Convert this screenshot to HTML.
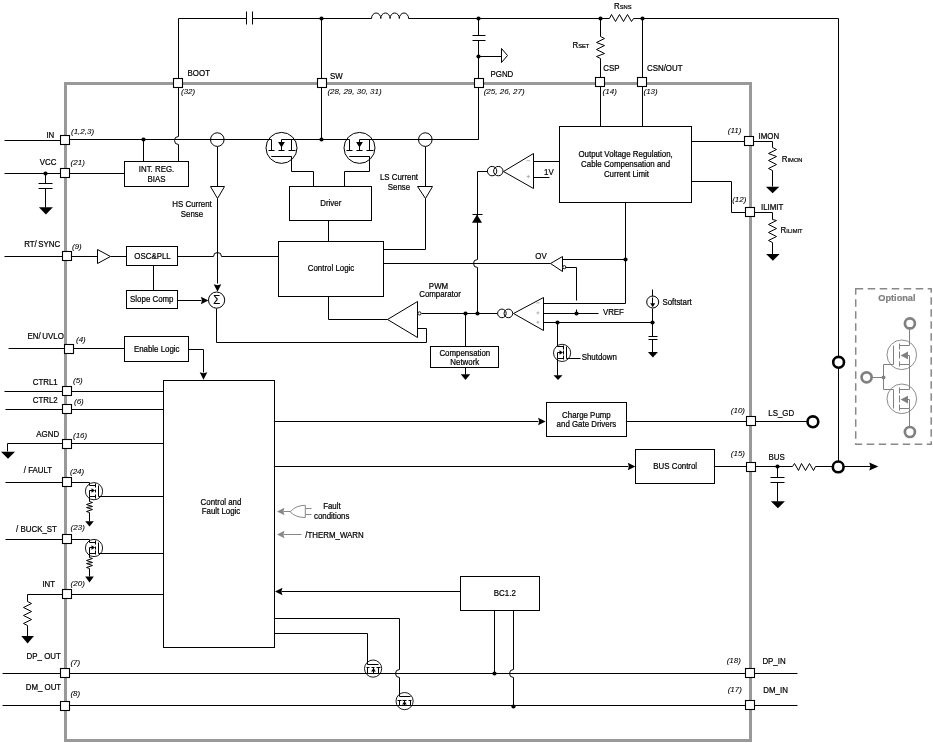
<!DOCTYPE html>
<html><head><meta charset="utf-8"><style>
html,body{margin:0;padding:0;background:#fff;}
svg{display:block;}
text{font-family:"Liberation Sans",sans-serif;}
svg{will-change:transform;}
</style></head><body>
<svg width="933" height="743" viewBox="0 0 933 743">
<rect x="65.5" y="83.5" width="685" height="657" fill="none" stroke="#999" stroke-width="3"/>
<path d="M178.5 83.5 V18.5 H246.5 M252.5 18.5 H371.5 M408.5 18.5 H609.5 M633.5 18.5 H838.5 V462.5" fill="none" stroke="#000" stroke-width="1.0" />
<path d="M246.5 11.5 V24.5 M252.5 11.5 V24.5" fill="none" stroke="#000" stroke-width="1.0" />
<path d="M371.5 18.5 a4.64 5.5 0 0 1 9.28 0 a4.64 5.5 0 0 1 9.28 0 a4.64 5.5 0 0 1 9.28 0 a4.64 5.5 0 0 1 9.28 0" fill="none" stroke="#000" stroke-width="1.0" />
<path d="M609.5 18.5 L611.5 14.5 L615.5 21.5 L619.5 14.5 L623.5 21.5 L627.5 14.5 L631.5 21.5 L633.5 18.5" fill="none" stroke="#000" stroke-width="1.0" />
<circle cx="321.5" cy="18.5" r="2.1" fill="#000"/>
<circle cx="478.5" cy="18.5" r="2.1" fill="#000"/>
<circle cx="600.5" cy="18.5" r="2.1" fill="#000"/>
<circle cx="642.5" cy="18.5" r="2.1" fill="#000"/>
<path d="M321.5 18.5 V140.5" fill="none" stroke="#000" stroke-width="1.0" />
<circle cx="321.5" cy="139.5" r="2.1" fill="#000"/>
<path d="M478.5 18.5 V35.5 M478.5 40.5 V139.5 H369.5" fill="none" stroke="#000" stroke-width="1.0" />
<path d="M472.5 35.5 H485.5 M472.5 40.5 H485.5" fill="none" stroke="#000" stroke-width="1.0" />
<circle cx="478.5" cy="56.5" r="2.1" fill="#000"/>
<path d="M478.5 56.5 H501.5" fill="none" stroke="#000" stroke-width="1.0" />
<path d="M501.5 48.5 L507.5 55.5 L501.5 62.5 Z" fill="none" stroke="#000" stroke-width="1.0" />
<path d="M600.5 18.5 V36.5" fill="none" stroke="#000" stroke-width="1.0" />
<path d="M600.5 36.5 L604.5 38.5 L596.5 42.5 L604.5 45.5 L596.5 49.5 L604.5 53.5 L596.5 56.5 L600.5 58.5" fill="none" stroke="#000" stroke-width="1.0" />
<path d="M600.5 58.5 V126.5" fill="none" stroke="#000" stroke-width="1.0" />
<path d="M642.5 18.5 V126.5" fill="none" stroke="#000" stroke-width="1.0" />
<path d="M178.5 83.5 V136.5 A4 4 0 0 0 178.5 144.5 V161.5" fill="none" stroke="#000" stroke-width="1.0" />
<path d="M4.5 140.5 H61.5 M69.5 139.5 H271.5 M281.5 139.5 H349.5 M359.5 139.5 H478.5" fill="none" stroke="#000" stroke-width="1.0" />
<circle cx="143.5" cy="139.5" r="2.1" fill="#000"/>
<path d="M143.5 139.5 V161.5" fill="none" stroke="#000" stroke-width="1.0" />
<rect x="124.5" y="161.5" width="64.00" height="25.00" fill="#fff" stroke="#000" stroke-width="1.0"/>
<text transform="translate(156.5,172.4) scale(0.93,1)" font-size="8.5" text-anchor="middle" fill="#000" stroke="#000" stroke-width="0.22" font-weight="normal" style="">INT. REG.</text>
<text transform="translate(156.5,181.8) scale(0.93,1)" font-size="8.5" text-anchor="middle" fill="#000" stroke="#000" stroke-width="0.22" font-weight="normal" style="">BIAS</text>
<path d="M4.5 173.5 H124.5" fill="none" stroke="#000" stroke-width="1.0" />
<circle cx="45.5" cy="173.5" r="2.1" fill="#000"/>
<path d="M45.5 173.5 V183.5 M45.5 188.5 V207.5" fill="none" stroke="#000" stroke-width="1.0" />
<path d="M38.5 183.5 H52.5 M38.5 188.5 H52.5" fill="none" stroke="#000" stroke-width="1.0" />
<path d="M38.9,207.3 H52.9 L45.9,214.5 Z" fill="#000" stroke="none"/>
<circle cx="217.3" cy="139.6" r="6.8" fill="none" stroke="#000" stroke-width="1.0"/>
<path d="M217.5 146.5 V186.5" fill="none" stroke="#000" stroke-width="1.0" />
<path d="M210.5 186.5 H224.5 L217.5 198.5 Z" fill="none" stroke="#000" stroke-width="1.0" />
<path d="M217.5 198.5 V283.5" fill="none" stroke="#000" stroke-width="1.0" />
<path d="M217.50,291.70 L213.70,284.20 L217.50,285.30 L221.30,284.20 Z" fill="#000" stroke="none"/>
<circle cx="216.6" cy="300.1" r="8.1" fill="none" stroke="#000" stroke-width="1.0"/>
<text transform="translate(216.8,304.2) scale(0.93,1)" font-size="12" text-anchor="middle" fill="#000" stroke="#000" stroke-width="0.22" font-weight="normal" style="">&#931;</text>
<text transform="translate(192,207.3) scale(0.93,1)" font-size="8.5" text-anchor="middle" fill="#000" stroke="#000" stroke-width="0.22" font-weight="normal" style="">HS Current</text>
<text transform="translate(192,217) scale(0.93,1)" font-size="8.5" text-anchor="middle" fill="#000" stroke="#000" stroke-width="0.22" font-weight="normal" style="">Sense</text>
<circle cx="281.5" cy="147.9" r="15.5" fill="none" stroke="#000" stroke-width="1.0"/>
<path d="M271.5 139.5 V150.5 M281.5 139.5 V150.5 M291.5 139.5 V150.5" fill="none" stroke="#000" stroke-width="1.0" />
<path d="M268.5 150.5 H274.5 M278.5 150.5 H284.5 M288.5 150.5 H295.5" fill="none" stroke="#000" stroke-width="1.0" />
<path d="M278.1,142.1 H284.9 L281.5,147.4 Z" fill="#000" stroke="none"/>
<path d="M271.5 156.5 H291.5" fill="none" stroke="#000" stroke-width="1.0" />
<circle cx="359.5" cy="147.9" r="15.5" fill="none" stroke="#000" stroke-width="1.0"/>
<path d="M349.5 139.5 V150.5 M359.5 139.5 V150.5 M369.5 139.5 V150.5" fill="none" stroke="#000" stroke-width="1.0" />
<path d="M346.5 150.5 H352.5 M356.5 150.5 H362.5 M366.5 150.5 H373.5" fill="none" stroke="#000" stroke-width="1.0" />
<path d="M356.1,142.1 H362.9 L359.5,147.4 Z" fill="#000" stroke="none"/>
<path d="M349.5 156.5 H369.5" fill="none" stroke="#000" stroke-width="1.0" />
<path d="M271.5 156.5 H291.5 V171.5 H313.5 V186.5" fill="none" stroke="#000" stroke-width="1.0" />
<path d="M349.5 156.5 H369.5 V171.5 H344.5 V186.5" fill="none" stroke="#000" stroke-width="1.0" />
<rect x="289.5" y="186.5" width="82.00" height="34.00" fill="#fff" stroke="#000" stroke-width="1.0"/>
<text transform="translate(330.8,206.2) scale(0.93,1)" font-size="8.5" text-anchor="middle" fill="#000" stroke="#000" stroke-width="0.22" font-weight="normal" style="">Driver</text>
<path d="M328.5 220.5 V241.5" fill="none" stroke="#000" stroke-width="1.0" />
<circle cx="425.3" cy="139.6" r="6.8" fill="none" stroke="#000" stroke-width="1.0"/>
<path d="M425.5 146.5 V186.5" fill="none" stroke="#000" stroke-width="1.0" />
<path d="M417.5 186.5 H432.5 L425.5 198.5 Z" fill="none" stroke="#000" stroke-width="1.0" />
<path d="M425.5 198.5 V249.5 H383.5" fill="none" stroke="#000" stroke-width="1.0" />
<text transform="translate(399,180.2) scale(0.93,1)" font-size="8.5" text-anchor="middle" fill="#000" stroke="#000" stroke-width="0.22" font-weight="normal" style="">LS Current</text>
<text transform="translate(399,189.7) scale(0.93,1)" font-size="8.5" text-anchor="middle" fill="#000" stroke="#000" stroke-width="0.22" font-weight="normal" style="">Sense</text>
<rect x="278.5" y="241.5" width="105.00" height="55.00" fill="#fff" stroke="#000" stroke-width="1.0"/>
<text transform="translate(331,270.6) scale(0.93,1)" font-size="8.5" text-anchor="middle" fill="#000" stroke="#000" stroke-width="0.22" font-weight="normal" style="">Control Logic</text>
<path d="M4.5 256.5 H97.5 M110.5 256.5 H126.5" fill="none" stroke="#000" stroke-width="1.0" />
<path d="M97.5 249.5 L110.5 256.5 L97.5 263.5 Z" fill="none" stroke="#000" stroke-width="1.0" />
<rect x="126.5" y="246.5" width="51.00" height="19.00" fill="#fff" stroke="#000" stroke-width="1.0"/>
<text transform="translate(152.5,258.6) scale(0.93,1)" font-size="8.5" text-anchor="middle" fill="#000" stroke="#000" stroke-width="0.22" font-weight="normal" style="">OSC&amp;PLL</text>
<path d="M153.5 265.5 V290.5" fill="none" stroke="#000" stroke-width="1.0" />
<rect x="126.5" y="290.5" width="51.00" height="18.00" fill="#fff" stroke="#000" stroke-width="1.0"/>
<text transform="translate(151.8,301.8) scale(0.93,1)" font-size="8.5" text-anchor="middle" fill="#000" stroke="#000" stroke-width="0.22" font-weight="normal" style="">Slope Comp</text>
<path d="M177.5 256.5 H213.5 A4 4 0 0 1 221.5 256.5 H278.5" fill="none" stroke="#000" stroke-width="1.0" />
<path d="M177.5 300.5 H201.5" fill="none" stroke="#000" stroke-width="1.0" />
<path d="M208.40,300.50 L200.90,296.70 L202.00,300.50 L200.90,304.30 Z" fill="#000" stroke="none"/>
<path d="M216.5 308.5 V342.5 H426.5 V328.5 H417.5" fill="none" stroke="#000" stroke-width="1.0" />
<path d="M387.5 319.5 L417.5 301.5 V337.5 Z" fill="none" stroke="#000" stroke-width="1.0" />
<circle cx="419.5" cy="313.4" r="1.6" fill="#fff" stroke="#000" stroke-width="0.9"/>
<path d="M328.5 296.5 V319.5 H387.5" fill="none" stroke="#000" stroke-width="1.0" />
<path d="M421.5 313.5 H497.5" fill="none" stroke="#000" stroke-width="1.0" />
<circle cx="465.5" cy="313.5" r="2.1" fill="#000"/>
<circle cx="477.5" cy="313.5" r="2.1" fill="#000"/>
<text transform="translate(438.5,289.4) scale(0.93,1)" font-size="8.5" text-anchor="middle" fill="#000" stroke="#000" stroke-width="0.22" font-weight="normal" style="">PWM</text>
<text transform="translate(440,296.9) scale(0.93,1)" font-size="8.5" text-anchor="middle" fill="#000" stroke="#000" stroke-width="0.22" font-weight="normal" style="">Comparator</text>
<path d="M465.5 313.5 V346.5" fill="none" stroke="#000" stroke-width="1.0" />
<rect x="430.5" y="346.5" width="68.00" height="21.00" fill="#fff" stroke="#000" stroke-width="1.0"/>
<text transform="translate(464.8,355.6) scale(0.93,1)" font-size="8.5" text-anchor="middle" fill="#000" stroke="#000" stroke-width="0.22" font-weight="normal" style="">Compensation</text>
<text transform="translate(464.8,365.0) scale(0.93,1)" font-size="8.5" text-anchor="middle" fill="#000" stroke="#000" stroke-width="0.22" font-weight="normal" style="">Network</text>
<path d="M465.5 367.5 V374.5" fill="none" stroke="#000" stroke-width="1.0" />
<path d="M460.75,374.2 H470.25 L465.5,380.0 Z" fill="#000" stroke="none"/>
<path d="M383.5 263.5 H550.5" fill="none" stroke="#000" stroke-width="1.0" />
<path d="M477.5 171.5 V259.5 A4 4 0 0 0 477.5 267.5 V313.5" fill="none" stroke="#000" stroke-width="1.0" />
<path d="M472,222.7 H482 L477,214.5 Z" fill="#000" stroke="none"/>
<path d="M472.5 214.5 H482.5" fill="none" stroke="#000" stroke-width="1.0" />
<path d="M477.5 171.5 H487.5" fill="none" stroke="#000" stroke-width="1.0" />
<circle cx="492.1" cy="171.1" r="4.7" fill="none" stroke="#000" stroke-width="1.0"/>
<circle cx="498.3" cy="171.1" r="4.7" fill="none" stroke="#000" stroke-width="1.0"/>
<path d="M503.5 171.5 L533.5 153.5 V188.5 Z" fill="none" stroke="#000" stroke-width="1.0" />
<path d="M526.6,160.8 H530.2 M526.7,176.6 H529.9 M528.3,175 V178.2" stroke="#aaa" stroke-width="0.9" fill="none"/>
<path d="M533.5 161.5 H559.5 M533.5 177.5 H549.5" fill="none" stroke="#000" stroke-width="1.0" />
<text transform="translate(544,175.2) scale(0.93,1)" font-size="8.5" text-anchor="start" fill="#000" stroke="#000" stroke-width="0.22" font-weight="normal" style="">1V</text>
<rect x="559.5" y="126.5" width="132.00" height="76.00" fill="#fff" stroke="#000" stroke-width="1.0"/>
<text transform="translate(625.6,157.4) scale(0.93,1)" font-size="8.5" text-anchor="middle" fill="#000" stroke="#000" stroke-width="0.22" font-weight="normal" style="">Output Voltage Regulation,</text>
<text transform="translate(625.6,166.9) scale(0.93,1)" font-size="8.5" text-anchor="middle" fill="#000" stroke="#000" stroke-width="0.22" font-weight="normal" style="">Cable Compensation and</text>
<text transform="translate(626.5,176.6) scale(0.93,1)" font-size="8.5" text-anchor="middle" fill="#000" stroke="#000" stroke-width="0.22" font-weight="normal" style="">Current Limit</text>
<path d="M625.5 202.5 V303.5 H543.5" fill="none" stroke="#000" stroke-width="1.0" />
<circle cx="625.5" cy="259.5" r="2.1" fill="#000"/>
<path d="M625.5 259.5 H562.5" fill="none" stroke="#000" stroke-width="1.0" />
<path d="M691.5 141.5 H772.5 V147.5" fill="none" stroke="#000" stroke-width="1.0" />
<path d="M772.5 147.5 L776.5 149.5 L768.5 153.5 L776.5 156.5 L768.5 160.5 L776.5 164.5 L768.5 168.5 L772.5 170.5" fill="none" stroke="#000" stroke-width="1.0" />
<path d="M772.5 170.5 V186.5" fill="none" stroke="#000" stroke-width="1.0" />
<path d="M765.85,186.7 H779.35 L772.6,193.29999999999998 Z" fill="#000" stroke="none"/>
<path d="M691.5 181.5 H731.5 V212.5 H772.5 V219.5" fill="none" stroke="#000" stroke-width="1.0" />
<path d="M772.5 219.5 L776.5 220.5 L768.5 224.5 L776.5 228.5 L768.5 232.5 L776.5 236.5 L768.5 240.5 L772.5 242.5" fill="none" stroke="#000" stroke-width="1.0" />
<path d="M772.5 242.5 V254.5" fill="none" stroke="#000" stroke-width="1.0" />
<path d="M766.15,254.1 H779.65 L772.9,260.8 Z" fill="#000" stroke="none"/>
<path d="M550.5 263.5 L562.5 256.5 V271.5 Z" fill="none" stroke="#000" stroke-width="1.0" />
<circle cx="564.3" cy="267.2" r="1.6" fill="#fff" stroke="#000" stroke-width="0.9"/>
<path d="M565.5 267.5 H576.5 V300.5 M576.5 309.5 V313.5" fill="none" stroke="#000" stroke-width="1.0" />
<circle cx="576.5" cy="313.5" r="2.1" fill="#000"/>
<text transform="translate(541,259.2) scale(0.93,1)" font-size="8.5" text-anchor="middle" fill="#000" stroke="#000" stroke-width="0.22" font-weight="normal" style="">OV</text>
<path d="M513.5 313.5 L543.5 297.5 V330.5 Z" fill="none" stroke="#000" stroke-width="1.0" />
<circle cx="501.9" cy="313.4" r="4.3" fill="none" stroke="#000" stroke-width="1.0"/>
<circle cx="508.4" cy="313.4" r="4.3" fill="none" stroke="#000" stroke-width="1.0"/>
<path d="M536.2,302.9 H539.6 M536.4,312.9 H539.4 M537.9,311.4 V314.4 M536.4,322.2 H539.4 M537.9,320.7 V323.7" stroke="#aaa" stroke-width="0.9" fill="none"/>
<path d="M543.5 313.5 H598.5 M543.5 322.5 H652.5" fill="none" stroke="#000" stroke-width="1.0" />
<circle cx="557.5" cy="322.5" r="2.1" fill="#000"/>
<circle cx="652.5" cy="322.5" r="2.1" fill="#000"/>
<text transform="translate(602.9,315.3) scale(0.93,1)" font-size="8.5" text-anchor="start" fill="#000" stroke="#000" stroke-width="0.22" font-weight="normal" style="">VREF</text>
<path d="M652.5 289.5 V296.5 M652.5 308.5 V336.5 M652.5 339.5 V352.5" fill="none" stroke="#000" stroke-width="1.0" />
<circle cx="652.7" cy="302" r="6" fill="none" stroke="#000" stroke-width="1.0"/>
<path d="M652.5 297.5 V305.5" fill="none" stroke="#000" stroke-width="1.0" />
<path d="M650.2,303.2 H655.2 L652.7,307.2 Z" fill="#000" stroke="none"/>
<path d="M648.5 336.5 H657.5 M648.5 339.5 H657.5" fill="none" stroke="#000" stroke-width="1.0" />
<path d="M647.9,352 H657.9 L652.9,357.6 Z" fill="#000" stroke="none"/>
<text transform="translate(662.4,305.2) scale(0.93,1)" font-size="8.5" text-anchor="start" fill="#000" stroke="#000" stroke-width="0.22" font-weight="normal" style="">Softstart</text>
<path d="M557.5 322.5 V346.5 M557.5 358.5 V375.5" fill="none" stroke="#000" stroke-width="1.0" />
<circle cx="562.1" cy="352.9" r="8.6" fill="none" stroke="#000" stroke-width="0.9"/>
<path d="M557.5 346.5 H563.5 M557.5 352.5 H561.5 M557.5 352.5 V358.5 H563.5" fill="none" stroke="#000" stroke-width="1.0" />
<path d="M563.5 345.5 V349.5 M563.5 350.5 V354.5 M563.5 355.5 V359.5" fill="none" stroke="#000" stroke-width="1.0" />
<path d="M563.0,352.5 L559.5,350.2 V354.8 Z" fill="#000" stroke="none"/>
<path d="M566.5 346.5 V358.5" fill="none" stroke="#000" stroke-width="1.0" />
<path d="M566.5 358.5 H580.5" fill="none" stroke="#000" stroke-width="1.0" />
<path d="M553.5,375.2 H562.5 L558,380.0 Z" fill="#000" stroke="none"/>
<text transform="translate(581.7,360) scale(0.93,1)" font-size="8.5" text-anchor="start" fill="#000" stroke="#000" stroke-width="0.22" font-weight="normal" style="">Shutdown</text>
<path d="M8.5 348.5 H124.5" fill="none" stroke="#000" stroke-width="1.0" />
<rect x="124.5" y="336.5" width="64.00" height="25.00" fill="#fff" stroke="#000" stroke-width="1.0"/>
<text transform="translate(156.7,351.6) scale(0.93,1)" font-size="8.5" text-anchor="middle" fill="#000" stroke="#000" stroke-width="0.22" font-weight="normal" style="">Enable Logic</text>
<path d="M188.5 349.5 H203.5 V372.5" fill="none" stroke="#000" stroke-width="1.0" />
<path d="M203.50,379.70 L199.70,372.20 L203.50,373.30 L207.30,372.20 Z" fill="#000" stroke="none"/>
<rect x="163.5" y="380.5" width="111.00" height="267.00" fill="#fff" stroke="#000" stroke-width="1.0"/>
<text transform="translate(221,504.8) scale(0.93,1)" font-size="8.5" text-anchor="middle" fill="#000" stroke="#000" stroke-width="0.22" font-weight="normal" style="">Control and</text>
<text transform="translate(221,513.6) scale(0.93,1)" font-size="8.5" text-anchor="middle" fill="#000" stroke="#000" stroke-width="0.22" font-weight="normal" style="">Fault Logic</text>
<path d="M4.5 391.5 H163.5" fill="none" stroke="#000" stroke-width="1.0" />
<path d="M5.5 409.5 H163.5" fill="none" stroke="#000" stroke-width="1.0" />
<path d="M7.5 451.5 V443.5 H163.5" fill="none" stroke="#000" stroke-width="1.0" />
<path d="M1.0,451.7 H15.0 L8,458.8 Z" fill="#000" stroke="none"/>
<path d="M5.5 482.5 H89.5 V485.5" fill="none" stroke="#000" stroke-width="1.0" />
<circle cx="94.0" cy="491.2" r="8.6" fill="none" stroke="#000" stroke-width="0.9"/>
<path d="M89.5 485.5 H95.5 M89.5 490.5 H93.5 M89.5 490.5 V496.5 H95.5" fill="none" stroke="#000" stroke-width="1.0" />
<path d="M95.5 483.5 V487.5 M95.5 489.5 V492.5 M95.5 494.5 V498.5" fill="none" stroke="#000" stroke-width="1.0" />
<path d="M95.0,490.5 L91.5,488.2 V492.8 Z" fill="#000" stroke="none"/>
<path d="M98.5 485.5 V496.5" fill="none" stroke="#000" stroke-width="1.0" />
<path d="M98.5 496.5 H163.5" fill="none" stroke="#000" stroke-width="1.0" />
<path d="M89.5 496.5 V501.5" fill="none" stroke="#000" stroke-width="1.0" />
<path d="M89.5 501.5 L92.5 502.5 L86.5 504.5 L92.5 506.5 L86.5 507.5 L92.5 509.5 L86.5 511.5 L89.5 512.5" fill="none" stroke="#000" stroke-width="1.0" />
<path d="M89.5 512.5 V521.5" fill="none" stroke="#000" stroke-width="1.0" />
<path d="M85.2,521.3 H93.8 L89.5,526.5 Z" fill="#000" stroke="none"/>
<path d="M5.5 539.5 H89.5 V542.5" fill="none" stroke="#000" stroke-width="1.0" />
<circle cx="94.0" cy="548" r="8.6" fill="none" stroke="#000" stroke-width="0.9"/>
<path d="M89.5 542.5 H95.5 M89.5 547.5 H93.5 M89.5 547.5 V553.5 H95.5" fill="none" stroke="#000" stroke-width="1.0" />
<path d="M95.5 540.5 V544.5 M95.5 546.5 V549.5 M95.5 550.5 V554.5" fill="none" stroke="#000" stroke-width="1.0" />
<path d="M95.0,547.5 L91.5,545.2 V549.8 Z" fill="#000" stroke="none"/>
<path d="M98.5 542.5 V553.5" fill="none" stroke="#000" stroke-width="1.0" />
<path d="M98.5 553.5 H163.5" fill="none" stroke="#000" stroke-width="1.0" />
<path d="M89.5 553.5 V557.5" fill="none" stroke="#000" stroke-width="1.0" />
<path d="M89.5 557.5 L92.5 558.5 L86.5 560.5 L92.5 562.5 L86.5 563.5 L92.5 565.5 L86.5 567.5 L89.5 568.5" fill="none" stroke="#000" stroke-width="1.0" />
<path d="M89.5 568.5 V576.5" fill="none" stroke="#000" stroke-width="1.0" />
<path d="M85.2,576.6 H93.8 L89.5,582.6 Z" fill="#000" stroke="none"/>
<path d="M27.5 601.5 V594.5 H163.5" fill="none" stroke="#000" stroke-width="1.0" />
<path d="M27.5 601.5 L31.5 603.5 L23.5 607.5 L31.5 611.5 L23.5 615.5 L31.5 619.5 L23.5 623.5 L27.5 625.5" fill="none" stroke="#000" stroke-width="1.0" />
<path d="M27.5 625.5 V636.5" fill="none" stroke="#000" stroke-width="1.0" />
<path d="M21.25,636.1 H33.95 L27.6,643.6 Z" fill="#000" stroke="none"/>
<path d="M2.5 673.5 H797.5" fill="none" stroke="#000" stroke-width="1.0" />
<path d="M2.5 705.5 H797.5" fill="none" stroke="#000" stroke-width="1.0" />
<circle cx="494.5" cy="673.5" r="2.1" fill="#000"/>
<circle cx="513.5" cy="706.5" r="2.1" fill="#000"/>
<path d="M274.5 618.5 H399.5 V669.5 A4 4 0 0 0 399.5 677.5 V696.5" fill="none" stroke="#000" stroke-width="1.0" />
<path d="M274.5 633.5 H367.5 V664.5" fill="none" stroke="#000" stroke-width="1.0" />
<circle cx="373.1" cy="668.6" r="8.6" fill="none" stroke="#000" stroke-width="0.9"/>
<path d="M367.5 664.5 H378.5" fill="none" stroke="#000" stroke-width="1.0" />
<path d="M366.5 667.5 H369.5 M371.5 667.5 H374.5 M376.5 667.5 H380.5" fill="none" stroke="#000" stroke-width="1.0" />
<path d="M367.5 667.5 V673.5 M378.5 667.5 V673.5 M373.5 667.5 V673.5" fill="none" stroke="#000" stroke-width="1.0" />
<path d="M373.5,668.0 L371.2,671.5 H375.8 Z" fill="#000" stroke="none"/>
<circle cx="404.6" cy="701.1" r="8.6" fill="none" stroke="#000" stroke-width="0.9"/>
<path d="M399.5 696.5 H410.5" fill="none" stroke="#000" stroke-width="1.0" />
<path d="M397.5 700.5 H401.5 M402.5 700.5 H406.5 M408.5 700.5 H411.5" fill="none" stroke="#000" stroke-width="1.0" />
<path d="M399.5 700.5 V705.5 M410.5 700.5 V705.5 M404.5 700.5 V705.5" fill="none" stroke="#000" stroke-width="1.0" />
<path d="M404.5,701.0 L402.2,704.5 H406.8 Z" fill="#000" stroke="none"/>
<path d="M274.5 421.5 H538.5" fill="none" stroke="#000" stroke-width="1.0" />
<path d="M545.60,421.50 L538.10,417.70 L539.20,421.50 L538.10,425.30 Z" fill="#000" stroke="none"/>
<rect x="546.5" y="402.5" width="80.00" height="34.00" fill="#fff" stroke="#000" stroke-width="1.0"/>
<text transform="translate(586.4,418.2) scale(0.93,1)" font-size="8.5" text-anchor="middle" fill="#000" stroke="#000" stroke-width="0.22" font-weight="normal" style="">Charge Pump</text>
<text transform="translate(586.4,427.4) scale(0.93,1)" font-size="8.5" text-anchor="middle" fill="#000" stroke="#000" stroke-width="0.22" font-weight="normal" style="">and Gate Drivers</text>
<path d="M626.5 421.5 H807.5" fill="none" stroke="#000" stroke-width="1.0" />
<circle cx="812.9" cy="421.8" r="5.4" fill="#fff" stroke="#000" stroke-width="2.6"/>
<path d="M274.5 466.5 H628.5" fill="none" stroke="#000" stroke-width="1.0" />
<path d="M635.30,466.50 L627.80,462.70 L628.90,466.50 L627.80,470.30 Z" fill="#000" stroke="none"/>
<rect x="635.5" y="449.5" width="79.00" height="34.00" fill="#fff" stroke="#000" stroke-width="1.0"/>
<text transform="translate(675.2,468.6) scale(0.93,1)" font-size="8.5" text-anchor="middle" fill="#000" stroke="#000" stroke-width="0.22" font-weight="normal" style="">BUS Control</text>
<path d="M714.5 466.5 H792.5" fill="none" stroke="#000" stroke-width="1.0" />
<path d="M792.5 466.5 L794.5 463.5 L798.5 470.5 L801.5 463.5 L805.5 470.5 L809.5 463.5 L813.5 470.5 L815.5 466.5" fill="none" stroke="#000" stroke-width="1.0" />
<path d="M815.5 466.5 H833.5 M843.5 466.5 H870.5" fill="none" stroke="#000" stroke-width="1.0" />
<circle cx="838.2" cy="466.9" r="5.4" fill="#fff" stroke="#000" stroke-width="2.6"/>
<circle cx="838.6" cy="362.3" r="5.4" fill="#fff" stroke="#000" stroke-width="2.6"/>
<path d="M878.30,466.50 L869.30,462.50 L870.40,466.50 L869.30,470.50 Z" fill="#000" stroke="none"/>
<circle cx="777.5" cy="466.5" r="2.1" fill="#000"/>
<path d="M777.5 466.5 V477.5 M777.5 482.5 V501.5" fill="none" stroke="#000" stroke-width="1.0" />
<path d="M770.5 477.5 H784.5 M770.5 482.5 H784.5" fill="none" stroke="#000" stroke-width="1.0" />
<path d="M770.9,501.3 H784.9 L777.9,508.2 Z" fill="#000" stroke="none"/>
<rect x="460.5" y="576.5" width="79.00" height="34.00" fill="#fff" stroke="#000" stroke-width="1.0"/>
<text transform="translate(504.8,596) scale(0.93,1)" font-size="8.5" text-anchor="middle" fill="#000" stroke="#000" stroke-width="0.22" font-weight="normal" style="">BC1.2</text>
<path d="M460.5 591.5 H281.5" fill="none" stroke="#000" stroke-width="1.0" />
<path d="M275.00,591.50 L282.50,587.70 L281.40,591.50 L282.50,595.30 Z" fill="#000" stroke="none"/>
<path d="M494.5 610.5 V673.5 M513.5 610.5 V669.5 A4 4 0 0 0 513.5 677.5 V706.5" fill="none" stroke="#000" stroke-width="1.0" />
<path d="M290.5 511.5 H283.5" fill="none" stroke="#888" stroke-width="1.0" />
<path d="M277.00,511.50 L284.50,507.70 L283.40,511.50 L284.50,515.30 Z" fill="#888" stroke="none"/>
<path d="M290.5 511.5 Q296 505.3 305.3 505.3 V517.5 Q296 517.8 290 511.7 Z M305.5 508.5 H311.5 M305.5 514.5 H311.5" fill="none" stroke="#888" stroke-width="1.0" />
<text transform="translate(331.9,509.2) scale(0.93,1)" font-size="8.5" text-anchor="middle" fill="#000" stroke="#000" stroke-width="0.22" font-weight="normal" style="">Fault</text>
<text transform="translate(331.7,518.6) scale(0.93,1)" font-size="8.5" text-anchor="middle" fill="#000" stroke="#000" stroke-width="0.22" font-weight="normal" style="">conditions</text>
<path d="M301.5 534.5 H283.5" fill="none" stroke="#888" stroke-width="1.0" />
<path d="M277.00,534.50 L284.50,530.70 L283.40,534.50 L284.50,538.30 Z" fill="#888" stroke="none"/>
<text transform="translate(305.3,537.6) scale(0.93,1)" font-size="8.5" text-anchor="start" fill="#000" stroke="#000" stroke-width="0.22" font-weight="normal" style="">/THERM_WARN</text>
<rect x="855.7" y="288.7" width="75.5" height="155.5" fill="none" stroke="#888" stroke-width="1.5" stroke-dasharray="7.5,4.5"/>
<text transform="translate(896.9,300.8) scale(1.0,1)" font-size="9.2" text-anchor="middle" fill="#808080" stroke="#808080" stroke-width="0.22" font-weight="bold" style="">Optional</text>
<circle cx="909.9" cy="323.4" r="5.0" fill="#fff" stroke="#808080" stroke-width="2.7"/>
<circle cx="909.9" cy="432.0" r="5.0" fill="#fff" stroke="#808080" stroke-width="2.7"/>
<circle cx="866.6" cy="377.3" r="5.0" fill="#fff" stroke="#808080" stroke-width="2.7"/>
<circle cx="901.8" cy="354.8" r="14.8" fill="none" stroke="#808080" stroke-width="0.9"/>
<circle cx="901.8" cy="398.8" r="14.8" fill="none" stroke="#808080" stroke-width="0.9"/>
<path d="M909.5 328.5 V345.5 H899.5 M909.5 355.5 V364.5 H899.5 M909.5 364.5 V389.5 H899.5 M909.5 399.5 V408.5 H899.5 M909.5 408.5 V427.5 M907.5 355.5 H909.5 M907.5 399.5 H909.5" fill="none" stroke="#808080" stroke-width="1.0" />
<path d="M899.5 343.5 V349.5 M899.5 351.5 V358.5 M899.5 361.5 V366.5 M899.5 387.5 V393.5 M899.5 395.5 V402.5 M899.5 404.5 V410.5" fill="none" stroke="#808080" stroke-width="1.0" />
<path d="M893.5 345.5 V364.5 H883.5 V389.5 H893.5 V408.5 M871.5 377.5 H883.5" fill="none" stroke="#808080" stroke-width="1.0" />
<path d="M900.5,355.4 L908,351.6 V359.2 Z" fill="#808080" stroke="none"/>
<path d="M900.5,399.6 L908,395.8 V403.4 Z" fill="#808080" stroke="none"/>
<circle cx="883.5" cy="377.5" r="2" fill="#808080"/>
<rect x="173.5" y="78.5" width="9" height="9" fill="#fff" stroke="#000" stroke-width="1.1"/>
<rect x="317.5" y="78.5" width="9" height="9" fill="#fff" stroke="#000" stroke-width="1.1"/>
<rect x="474.5" y="78.5" width="9" height="9" fill="#fff" stroke="#000" stroke-width="1.1"/>
<rect x="595.5" y="77.5" width="9" height="9" fill="#fff" stroke="#000" stroke-width="1.1"/>
<rect x="637.5" y="77.5" width="9" height="9" fill="#fff" stroke="#000" stroke-width="1.1"/>
<rect x="60.5" y="135.5" width="9" height="9" fill="#fff" stroke="#000" stroke-width="1.1"/>
<rect x="60.5" y="168.5" width="9" height="9" fill="#fff" stroke="#000" stroke-width="1.1"/>
<rect x="62.5" y="251.5" width="9" height="9" fill="#fff" stroke="#000" stroke-width="1.1"/>
<rect x="64.5" y="344.5" width="9" height="9" fill="#fff" stroke="#000" stroke-width="1.1"/>
<rect x="62.5" y="386.5" width="9" height="9" fill="#fff" stroke="#000" stroke-width="1.1"/>
<rect x="62.5" y="404.5" width="9" height="9" fill="#fff" stroke="#000" stroke-width="1.1"/>
<rect x="62.5" y="439.5" width="9" height="9" fill="#fff" stroke="#000" stroke-width="1.1"/>
<rect x="62.5" y="477.5" width="9" height="9" fill="#fff" stroke="#000" stroke-width="1.1"/>
<rect x="62.5" y="534.5" width="9" height="9" fill="#fff" stroke="#000" stroke-width="1.1"/>
<rect x="62.5" y="589.5" width="9" height="9" fill="#fff" stroke="#000" stroke-width="1.1"/>
<rect x="60.5" y="668.5" width="9" height="9" fill="#fff" stroke="#000" stroke-width="1.1"/>
<rect x="60.5" y="701.5" width="9" height="9" fill="#fff" stroke="#000" stroke-width="1.1"/>
<rect x="744.5" y="136.5" width="9" height="9" fill="#fff" stroke="#000" stroke-width="1.1"/>
<rect x="745.5" y="207.5" width="9" height="9" fill="#fff" stroke="#000" stroke-width="1.1"/>
<rect x="746.5" y="416.5" width="9" height="9" fill="#fff" stroke="#000" stroke-width="1.1"/>
<rect x="746.5" y="462.5" width="9" height="9" fill="#fff" stroke="#000" stroke-width="1.1"/>
<rect x="745.5" y="668.5" width="9" height="9" fill="#fff" stroke="#000" stroke-width="1.1"/>
<rect x="745.5" y="700.5" width="9" height="9" fill="#fff" stroke="#000" stroke-width="1.1"/>
<text transform="translate(187.6,75.8) scale(0.93,1)" font-size="8.5" text-anchor="start" fill="#000" stroke="#000" stroke-width="0.22" font-weight="normal" style="">BOOT</text>
<text transform="translate(181,93.6) scale(1.0,1)" font-size="8" text-anchor="start" fill="#000" stroke="#000" stroke-width="0.08" font-weight="normal" style="font-style:italic;">(32)</text>
<text transform="translate(330.1,79.3) scale(0.93,1)" font-size="8.5" text-anchor="start" fill="#000" stroke="#000" stroke-width="0.22" font-weight="normal" style="">SW</text>
<text transform="translate(327.4,94.3) scale(1.0,1)" font-size="8" text-anchor="start" fill="#000" stroke="#000" stroke-width="0.08" font-weight="normal" style="font-style:italic;">(28, 29, 30, 31)</text>
<text transform="translate(490.5,76.8) scale(0.93,1)" font-size="8.5" text-anchor="start" fill="#000" stroke="#000" stroke-width="0.22" font-weight="normal" style="">PGND</text>
<text transform="translate(483.7,94.3) scale(1.0,1)" font-size="8" text-anchor="start" fill="#000" stroke="#000" stroke-width="0.08" font-weight="normal" style="font-style:italic;">(25, 26, 27)</text>
<text transform="translate(603.3,71.1) scale(0.93,1)" font-size="8.5" text-anchor="start" fill="#000" stroke="#000" stroke-width="0.22" font-weight="normal" style="">CSP</text>
<text transform="translate(602.6,94.3) scale(1.0,1)" font-size="8" text-anchor="start" fill="#000" stroke="#000" stroke-width="0.08" font-weight="normal" style="font-style:italic;">(14)</text>
<text transform="translate(647,71.1) scale(0.93,1)" font-size="8.5" text-anchor="start" fill="#000" stroke="#000" stroke-width="0.22" font-weight="normal" style="">CSN/OUT</text>
<text transform="translate(643.5,94.3) scale(1.0,1)" font-size="8" text-anchor="start" fill="#000" stroke="#000" stroke-width="0.08" font-weight="normal" style="font-style:italic;">(13)</text>
<text transform="translate(614,9.2) scale(0.93,1)" font-size="8.5" stroke="#000" stroke-width="0.22">R<tspan font-size="6.2">SNS</tspan></text>
<text transform="translate(572.5,47.8) scale(0.93,1)" font-size="8.5" stroke="#000" stroke-width="0.22">R<tspan font-size="6.2">SET</tspan></text>
<text transform="translate(46.4,137.6) scale(0.93,1)" font-size="8.5" text-anchor="start" fill="#000" stroke="#000" stroke-width="0.22" font-weight="normal" style="">IN</text>
<text transform="translate(71,133.7) scale(1.0,1)" font-size="8" text-anchor="start" fill="#000" stroke="#000" stroke-width="0.08" font-weight="normal" style="font-style:italic;">(1,2,3)</text>
<text transform="translate(39.7,164.9) scale(0.93,1)" font-size="8.5" text-anchor="start" fill="#000" stroke="#000" stroke-width="0.22" font-weight="normal" style="">VCC</text>
<text transform="translate(70.6,165.4) scale(1.0,1)" font-size="8" text-anchor="start" fill="#000" stroke="#000" stroke-width="0.08" font-weight="normal" style="font-style:italic;">(21)</text>
<text transform="translate(24.2,247.2) scale(0.93,1)" font-size="8.5" text-anchor="start" fill="#000" stroke="#000" stroke-width="0.22" font-weight="normal" style="">RT/&#8201;SYNC</text>
<text transform="translate(72,248.7) scale(1.0,1)" font-size="8" text-anchor="start" fill="#000" stroke="#000" stroke-width="0.08" font-weight="normal" style="font-style:italic;">(9)</text>
<text transform="translate(27.6,339.3) scale(0.93,1)" font-size="8.5" text-anchor="start" fill="#000" stroke="#000" stroke-width="0.22" font-weight="normal" style="">EN/&#8201;UVLO</text>
<text transform="translate(76,342.1) scale(1.0,1)" font-size="8" text-anchor="start" fill="#000" stroke="#000" stroke-width="0.08" font-weight="normal" style="font-style:italic;">(4)</text>
<text transform="translate(32.7,385.4) scale(0.93,1)" font-size="8.5" text-anchor="start" fill="#000" stroke="#000" stroke-width="0.22" font-weight="normal" style="">CTRL1</text>
<text transform="translate(73,382.7) scale(1.0,1)" font-size="8" text-anchor="start" fill="#000" stroke="#000" stroke-width="0.08" font-weight="normal" style="font-style:italic;">(5)</text>
<text transform="translate(32.7,403.3) scale(0.93,1)" font-size="8.5" text-anchor="start" fill="#000" stroke="#000" stroke-width="0.22" font-weight="normal" style="">CTRL2</text>
<text transform="translate(74,404.1) scale(1.0,1)" font-size="8" text-anchor="start" fill="#000" stroke="#000" stroke-width="0.08" font-weight="normal" style="font-style:italic;">(6)</text>
<text transform="translate(36.3,436.6) scale(0.93,1)" font-size="8.5" text-anchor="start" fill="#000" stroke="#000" stroke-width="0.22" font-weight="normal" style="">AGND</text>
<text transform="translate(73,438.3) scale(1.0,1)" font-size="8" text-anchor="start" fill="#000" stroke="#000" stroke-width="0.08" font-weight="normal" style="font-style:italic;">(16)</text>
<text transform="translate(23.8,472.9) scale(0.93,1)" font-size="8.5" text-anchor="start" fill="#000" stroke="#000" stroke-width="0.22" font-weight="normal" style="">/ FAULT</text>
<text transform="translate(70,473.7) scale(1.0,1)" font-size="8" text-anchor="start" fill="#000" stroke="#000" stroke-width="0.08" font-weight="normal" style="font-style:italic;">(24)</text>
<text transform="translate(16.1,532.2) scale(0.93,1)" font-size="8.5" text-anchor="start" fill="#000" stroke="#000" stroke-width="0.22" font-weight="normal" style="">/ BUCK_ST</text>
<text transform="translate(70.6,530.3) scale(1.0,1)" font-size="8" text-anchor="start" fill="#000" stroke="#000" stroke-width="0.08" font-weight="normal" style="font-style:italic;">(23)</text>
<text transform="translate(42.4,587.1) scale(0.93,1)" font-size="8.5" text-anchor="start" fill="#000" stroke="#000" stroke-width="0.22" font-weight="normal" style="">INT</text>
<text transform="translate(70.6,585.5) scale(1.0,1)" font-size="8" text-anchor="start" fill="#000" stroke="#000" stroke-width="0.08" font-weight="normal" style="font-style:italic;">(20)</text>
<text transform="translate(26.6,658.9) scale(0.93,1)" font-size="8.5" text-anchor="start" fill="#000" stroke="#000" stroke-width="0.22" font-weight="normal" style="">DP_ OUT</text>
<text transform="translate(70.4,664.7) scale(1.0,1)" font-size="8" text-anchor="start" fill="#000" stroke="#000" stroke-width="0.08" font-weight="normal" style="font-style:italic;">(7)</text>
<text transform="translate(25.7,690.2) scale(0.93,1)" font-size="8.5" text-anchor="start" fill="#000" stroke="#000" stroke-width="0.22" font-weight="normal" style="">DM_ OUT</text>
<text transform="translate(70.4,695.7) scale(1.0,1)" font-size="8" text-anchor="start" fill="#000" stroke="#000" stroke-width="0.08" font-weight="normal" style="font-style:italic;">(8)</text>
<text transform="translate(758.6,139.3) scale(0.93,1)" font-size="8.5" text-anchor="start" fill="#000" stroke="#000" stroke-width="0.22" font-weight="normal" style="">IMON</text>
<text transform="translate(727.8,133.3) scale(1.0,1)" font-size="8" text-anchor="start" fill="#000" stroke="#000" stroke-width="0.08" font-weight="normal" style="font-style:italic;">(11)</text>
<text transform="translate(761,210.3) scale(0.93,1)" font-size="8.5" text-anchor="start" fill="#000" stroke="#000" stroke-width="0.22" font-weight="normal" style="">ILIMIT</text>
<text transform="translate(732.2,201.7) scale(1.0,1)" font-size="8" text-anchor="start" fill="#000" stroke="#000" stroke-width="0.08" font-weight="normal" style="font-style:italic;">(12)</text>
<text transform="translate(781.8,162.1) scale(0.93,1)" font-size="8.5" stroke="#000" stroke-width="0.22">R<tspan font-size="6.2">IMON</tspan></text>
<text transform="translate(780.6,233.1) scale(0.93,1)" font-size="8.5" stroke="#000" stroke-width="0.22">R<tspan font-size="6.2">ILIMIT</tspan></text>
<text transform="translate(730.8,412.7) scale(1.0,1)" font-size="8" text-anchor="start" fill="#000" stroke="#000" stroke-width="0.08" font-weight="normal" style="font-style:italic;">(10)</text>
<text transform="translate(768.3,416.4) scale(0.93,1)" font-size="8.5" text-anchor="start" fill="#000" stroke="#000" stroke-width="0.22" font-weight="normal" style="">LS_GD</text>
<text transform="translate(730.8,456.2) scale(1.0,1)" font-size="8" text-anchor="start" fill="#000" stroke="#000" stroke-width="0.08" font-weight="normal" style="font-style:italic;">(15)</text>
<text transform="translate(768.6,460.2) scale(0.93,1)" font-size="8.5" text-anchor="start" fill="#000" stroke="#000" stroke-width="0.22" font-weight="normal" style="">BUS</text>
<text transform="translate(726.7,662.7) scale(1.0,1)" font-size="8" text-anchor="start" fill="#000" stroke="#000" stroke-width="0.08" font-weight="normal" style="font-style:italic;">(18)</text>
<text transform="translate(762.4,663.8) scale(0.93,1)" font-size="8.5" text-anchor="start" fill="#000" stroke="#000" stroke-width="0.22" font-weight="normal" style="">DP_IN</text>
<text transform="translate(727.7,692.3) scale(1.0,1)" font-size="8" text-anchor="start" fill="#000" stroke="#000" stroke-width="0.08" font-weight="normal" style="font-style:italic;">(17)</text>
<text transform="translate(763.3,693.3) scale(0.93,1)" font-size="8.5" text-anchor="start" fill="#000" stroke="#000" stroke-width="0.22" font-weight="normal" style="">DM_IN</text>
</svg></body></html>
